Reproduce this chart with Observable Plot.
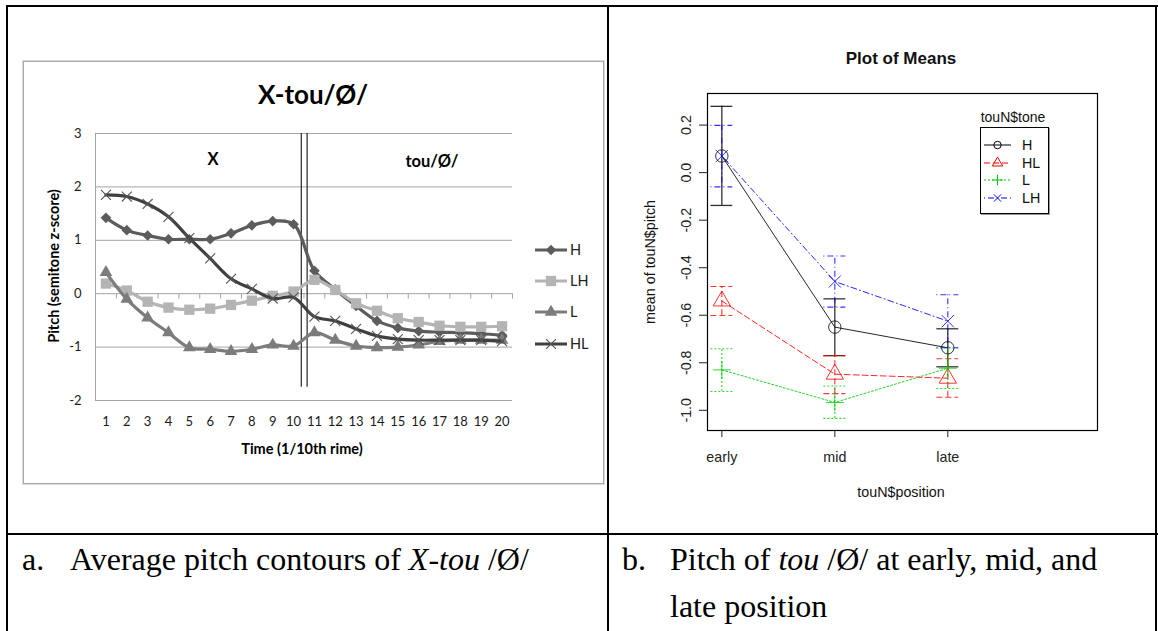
<!DOCTYPE html>
<html><head><meta charset="utf-8">
<script src="https://cdn.jsdelivr.net/npm/d3@7"></script>
<script src="https://cdn.jsdelivr.net/npm/@observablehq/plot@0.6"></script>
<style>
html,body{margin:0;padding:0;background:#fff;}
body{width:1158px;height:631px;overflow:hidden;position:relative;}
#root{position:absolute;left:0;top:0;width:1158px;height:631px;}
.abs{position:absolute;white-space:nowrap;}
.c{transform:translate(-50%,-50%);}
</style></head><body>
<div id="root"></div>
<script>
// ---------- Data: panel a (Excel line chart) ----------
const timeSteps = [1,2,3,4,5,6,7,8,9,10,11,12,13,14,15,16,17,18,19,20];
const pitchTicks = [-2,-1,0,1,2,3];
const tonesA = ["H","LH","L","HL"];
const pitchH  = [1.42,1.19,1.09,1.02,1.02,1.02,1.13,1.28,1.36,1.30,0.43,0.08,-0.23,-0.51,-0.64,-0.70,-0.72,-0.73,-0.75,-0.78];
const pitchLH = [0.19,0.06,-0.15,-0.26,-0.30,-0.28,-0.21,-0.13,-0.04,0.04,0.26,0.07,-0.18,-0.32,-0.46,-0.53,-0.60,-0.62,-0.62,-0.61];
const pitchL  = [0.40,-0.10,-0.45,-0.73,-1.01,-1.04,-1.08,-1.04,-0.96,-0.98,-0.73,-0.87,-0.98,-1.01,-1.00,-0.96,-0.89,-0.87,-0.87,-0.87];
const pitchHL = [1.85,1.82,1.68,1.44,1.04,0.66,0.28,0.09,-0.09,-0.07,-0.43,-0.51,-0.66,-0.79,-0.85,-0.87,-0.87,-0.87,-0.87,-0.89];
const sectionBoundary = 10.5;   // between X and tou/Ø/

// ---------- Data: panel b (R plot of means) ----------
const positions = ["early","mid","late"];
const meanTicks = [-1.0,-0.8,-0.6,-0.4,-0.2,0.0,0.2];
const tonesB = ["H","HL","L","LH"];
const meanH  = [0.07,-0.65,-0.737];
const loH    = [-0.138,-0.77,-0.817];
const hiH    = [0.279,-0.531,-0.657];
const meanHL = [-0.54,-0.848,-0.865];
const loHL   = [-0.601,-0.93,-0.945];
const hiHL   = [-0.479,-0.77,-0.783];
const meanL  = [-0.83,-0.967,-0.823];
const loL    = [-0.921,-1.034,-0.908];
const hiL    = [-0.741,-0.898,-0.738];
const meanLH = [0.07,-0.458,-0.625];
const loLH   = [-0.06,-0.566,-0.737];
const hiLH   = [0.199,-0.351,-0.514];

const root = document.getElementById("root");
function el(css, html, cls) {
  const e = document.createElement("div");
  e.className = "abs" + (cls ? " " + cls : "");
  e.style.cssText = css;
  if (html != null) e.innerHTML = html;
  root.appendChild(e);
  return e;
}

// ---------- Table frame ----------
el("left:6px;top:5px;width:1152px;height:2px;background:#000;");
el("left:6px;top:5px;width:2px;height:626px;background:#000;");
el("left:1155px;top:5px;width:2px;height:626px;background:#000;");
el("left:607px;top:5px;width:2px;height:626px;background:#000;");
el("left:6px;top:533px;width:1152px;height:2px;background:#000;");

// ---------- Panel a ----------
const styleA = {
  H:  {color:"#5c5c5c", symbol:"diamond2", r:4.8, fill:true},
  LH: {color:"#b4b4b4", symbol:"square",   r:5.8, fill:true},
  L:  {color:"#7c7c7c", symbol:"triangle", r:4.7, fill:true},
  HL: {color:"#404040", symbol:"times",    r:4.6, fill:false}
};
const valsA = {H:pitchH, LH:pitchLH, L:pitchL, HL:pitchHL};
const rowsA = tonesA.flatMap(tone => valsA[tone].map((v,i) => ({tone, t: timeSteps[i], v})));
const boundaries = [timeSteps[0]-0.5, ...timeSteps.map(t => t + 0.5)];
const xDomA = [timeSteps[0]-0.5, timeSteps[timeSteps.length-1]+0.5];

el("left:23px;top:61px;width:579px;height:421px;border:1px solid #a9a9a9;box-shadow:0 0 0 1px #dcdcdc;");

const marksA = [
  Plot.ruleY(pitchTicks, {stroke:"#a3a3a3", strokeWidth:1}),
  Plot.ruleX([xDomA[0]], {stroke:"#a3a3a3"}),
  Plot.ruleX(boundaries, {y1:0, y2:-0.1, stroke:"#a3a3a3"}),
  Plot.ruleX([sectionBoundary-0.13, sectionBoundary+0.15], {y1:-1.75, y2:3, stroke:"#262626", strokeWidth:1.2})
];
for (const tone of tonesA) {
  const s = styleA[tone];
  const data = rowsA.filter(d => d.tone === tone);
  marksA.push(Plot.line(data, {x:"t", y:"v", stroke:s.color, strokeWidth:3.2, curve:"catmull-rom"}));
  marksA.push(Plot.dot(data, {x:"t", y:"v", symbol:()=>s.symbol, r:s.r,
    fill: s.fill ? s.color : "none", stroke: s.fill ? "none" : "#555", strokeWidth:1.1}));
}
marksA.push(Plot.axisY({ticks:pitchTicks, tickSize:0, tickPadding:14, tickFormat:d => String(d), label:null, fontSize:13}));
marksA.push(Plot.axisX({ticks:timeSteps, tickSize:0, tickPadding:16, tickFormat:d => String(d), label:null, fontSize:13}));

const plotA = Plot.plot({
  width:581, height:423, marginLeft:72, marginRight:92, marginTop:72, marginBottom:84,
  style:{fontFamily:"Lato", fontSize:"13px", color:"#1a1a1a", background:"transparent", overflow:"visible"},
  x:{domain:xDomA, label:null}, y:{domain:[pitchTicks[0], pitchTicks[pitchTicks.length-1]], label:null},
  marks:marksA
});
const wrapA = el("left:23px;top:61px;");
wrapA.appendChild(plotA);

const fA = "font-family:Lato;font-weight:bold;color:#000;";
el(`left:313px;top:94px;font-size:26px;${fA}`, "X-tou/Ø/", "c");
el(`left:213px;top:159px;font-size:16.5px;${fA}`, "X", "c");
el(`left:432px;top:161px;font-size:16.5px;${fA}`, "tou/Ø/", "c");
el(`left:302px;top:448px;font-size:14.5px;${fA}`, "Time (1/10th rime)", "c");
el(`left:53px;top:266px;font-size:14.5px;${fA}transform:translate(-50%,-50%) rotate(-90deg);`, "Pitch (semitone z-score)");

const d3sym = {diamond2:d3.symbolDiamond2, square:d3.symbolSquare, triangle:d3.symbolTriangle,
  times:d3.symbolTimes, circle:d3.symbolCircle, plus:d3.symbolPlus};
function symPath(name, r) { return d3.symbol(d3sym[name], Math.PI*r*r)(); }

// legend panel a
const legYA = [250, 281, 312, 344];
tonesA.forEach((tone, i) => {
  const s = styleA[tone];
  const svg = `<svg width="36" height="14" style="position:absolute;left:0;top:0;overflow:visible">
    <line x1="1" y1="7" x2="33" y2="7" stroke="${s.color}" stroke-width="3"/>
    <path transform="translate(17,7)" d="${symPath(s.symbol, s.r)}" fill="${s.fill ? s.color : "none"}" stroke="${s.fill ? "none" : "#555"}" stroke-width="1.1"/></svg>`;
  el(`left:534px;top:${legYA[i]-7}px;width:36px;height:14px;`, svg);
  el(`left:570px;top:${legYA[i]-9}px;font-family:Lato;font-size:14.5px;color:#222;line-height:18px;`, tone);
});

// ---------- Panel b ----------
const styleB = {
  H:  {color:"#000000", dash:null,      symbol:"circle",   r:6.2},
  HL: {color:"#ff0000", dash:"6,3",     symbol:"triangle", r:6.4},
  L:  {color:"#00cd00", dash:"2,2",     symbol:"plus",     r:5.8},
  LH: {color:"#0000ff", dash:"1,3,6,3", symbol:"times",    r:5.6}
};
const valsB = {
  H:{m:meanH, lo:loH, hi:hiH}, HL:{m:meanHL, lo:loHL, hi:hiHL},
  L:{m:meanL, lo:loL, hi:hiL}, LH:{m:meanLH, lo:loLH, hi:hiLH}
};
const rowsB = tonesB.flatMap(tone => positions.map((p,i) => ({tone, pos:i+1, m:valsB[tone].m[i], lo:valsB[tone].lo[i], hi:valsB[tone].hi[i]})));
const capHalf = 0.097;

const marksB = [];
for (const tone of tonesB) {
  const s = styleB[tone];
  const data = rowsB.filter(d => d.tone === tone);
  const dash = s.dash ? {strokeDasharray:s.dash} : {};
  const sw = tone === "H" ? 1.3 : 1.1;
  marksB.push(Plot.ruleX(data, {x:"pos", y1:"lo", y2:"hi", stroke:s.color, strokeWidth:sw, strokeOpacity:0.8, ...dash}));
  marksB.push(Plot.ruleY(data, {y:"lo", x1:d=>d.pos-capHalf, x2:d=>d.pos+capHalf, stroke:s.color, strokeWidth:sw, strokeOpacity:0.8, ...dash}));
  marksB.push(Plot.ruleY(data, {y:"hi", x1:d=>d.pos-capHalf, x2:d=>d.pos+capHalf, stroke:s.color, strokeWidth:sw, strokeOpacity:0.8, ...dash}));
  marksB.push(Plot.line(data, {x:"pos", y:"m", stroke:s.color, strokeWidth:1, strokeOpacity:0.85, ...dash}));
  marksB.push(Plot.dot(data, {x:"pos", y:"m", symbol:()=>s.symbol, r:s.r, fill:"none", stroke:s.color, strokeWidth:1, strokeOpacity:0.8}));
}
marksB.push(Plot.frame({stroke:"#000", strokeWidth:1.2}));
marksB.push(Plot.axisX({ticks:[1,2,3], tickFormat:d => positions[d-1], tickSize:7, tickPadding:14, label:null, fontSize:14.3, stroke:"#222"}));
marksB.push(Plot.axisY({ticks:meanTicks, tickSize:8, tickFormat:() => "", label:null, stroke:"#222"}));
marksB.push(Plot.text(meanTicks, {y:d=>d, frameAnchor:"left", dx:-21, rotate:-90, text:d=>d.toFixed(1), textAnchor:"middle", lineAnchor:"middle", fontSize:14.3, fill:"#222"}));

const plotB = Plot.plot({
  width:505, height:475, marginLeft:95, marginRight:20, marginTop:63, marginBottom:75,
  style:{fontFamily:"Liberation Sans", fontSize:"14.3px", color:"#222", background:"transparent", overflow:"visible"},
  x:{domain:[0.873, 4.325], label:null}, y:{domain:[-1.085, 0.333], label:null},
  marks:marksB
});
const wrapB = el("left:612px;top:30px;");
wrapB.appendChild(plotB);

const fB = "font-family:'Liberation Sans';color:#111;";
el(`left:901px;top:59px;font-size:17px;font-weight:bold;${fB}`, "Plot of Means", "c");
el(`left:901px;top:492px;font-size:14.3px;${fB}`, "touN$position", "c");
el(`left:650px;top:262px;font-size:14.3px;${fB}transform:translate(-50%,-50%) rotate(-90deg);`, "mean of touN$pitch");

// legend panel b
el(`left:1013px;top:117px;font-size:14px;${fB}`, "touN$tone", "c");
el("left:980px;top:127px;width:67px;height:85px;border:1px solid #000;box-shadow:1px 1px 0 #999;");
const legYB = [144.5, 162.5, 180, 197.5];
tonesB.forEach((tone, i) => {
  const s = styleB[tone];
  const svg = `<svg width="30" height="12" style="position:absolute;left:0;top:0;overflow:visible">
    <line x1="1" y1="6" x2="28" y2="6" stroke="${s.color}" stroke-width="1" ${s.dash ? `stroke-dasharray="${s.dash}"` : ""}/>
    <path transform="translate(14.5,6)" d="${symPath(s.symbol, s.r*0.6)}" fill="none" stroke="${s.color}" stroke-width="1"/></svg>`;
  el(`left:983px;top:${legYB[i]-6}px;width:30px;height:12px;`, svg);
  el(`left:1022px;top:${legYB[i]-9}px;font-size:14.3px;line-height:18px;${fB}`, tone);
});

// ---------- Captions ----------
const cap = "font-family:'Liberation Serif';font-size:32px;line-height:47px;color:#000;";
el(`left:22px;top:536px;${cap}`, "a.");
el(`left:70px;top:536px;${cap}`, "Average pitch contours of <i>X-tou</i> /Ø/");
el(`left:622px;top:536px;${cap}`, "b.");
el(`left:670px;top:536px;${cap}`, "Pitch of <i>tou</i> /Ø/ at early, mid, and");
el(`left:670px;top:583px;${cap}`, "late position");
</script>
</body></html>
